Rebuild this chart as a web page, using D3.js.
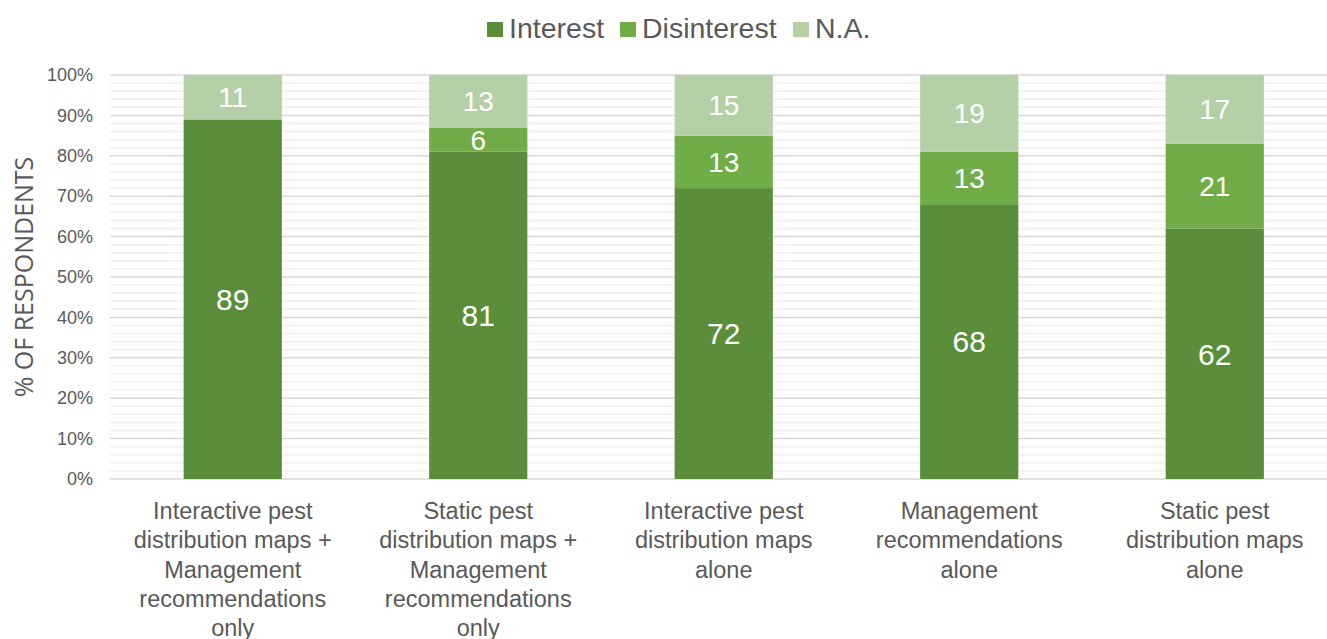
<!DOCTYPE html>
<html>
<head>
<meta charset="utf-8">
<script src="https://cdn.jsdelivr.net/npm/d3@7"></script>
<style>
	body { margin: 0; background: #fff; }
	svg { display: block; font-family: "Liberation Sans", Arial, sans-serif; }
</style>
</head>
<body>
<svg id="chart" width="1327" height="639"></svg>
<script>
const categories = [
	"Interactive pest distribution maps + Management recommendations only",
	"Static pest distribution maps + Management recommendations only",
	"Interactive pest distribution maps alone",
	"Management recommendations alone",
	"Static pest distribution maps alone"
];
// wrapped lines for category labels
const categoryLines = [
	["Interactive pest", "distribution maps +", "Management", "recommendations", "only"],
	["Static pest", "distribution maps +", "Management", "recommendations", "only"],
	["Interactive pest", "distribution maps", "alone"],
	["Management", "recommendations", "alone"],
	["Static pest", "distribution maps", "alone"]
];
const interest = [89, 81, 72, 68, 62];
const disinterest = [0, 6, 13, 13, 21];
const na = [11, 13, 15, 19, 17];
const seriesNames = ["Interest", "Disinterest", "N.A."];
const seriesColors = ["#5b8e3a", "#70ad47", "#b5cfa7"];
const yTicks = [0, 10, 20, 30, 40, 50, 60, 70, 80, 90, 100];

const rows = categories.map((c, i) => ({
	cat: c,
	"Interest": interest[i],
	"Disinterest": disinterest[i],
	"N.A.": na[i]
}));

const svg = d3.select("#chart");
const plotLeft = 110, plotRight = 1337.5, plotTop = 75, plotBottom = 479;

const x = d3.scaleBand()
	.domain(categories)
	.range([plotLeft, plotRight])
	.paddingInner(0.6)
	.paddingOuter(0.3);

const y = d3.scaleLinear().domain([0, 100]).range([plotBottom, plotTop]);

// minor gridlines
svg.append("g")
	.selectAll("line")
	.data(d3.range(0, 101, 2).filter(v => v % 10 !== 0))
	.enter().append("line")
	.attr("x1", plotLeft).attr("x2", plotRight)
	.attr("y1", d => y(d)).attr("y2", d => y(d))
	.attr("stroke", "#f0f0f0")
	.attr("stroke-width", 1.5);

// major gridlines
svg.append("g")
	.selectAll("line")
	.data(yTicks)
	.enter().append("line")
	.attr("x1", plotLeft).attr("x2", plotRight)
	.attr("y1", d => y(d)).attr("y2", d => y(d))
	.attr("stroke", "#d9d9d9")
	.attr("stroke-width", 1.5);

// y axis labels
const yAxis = d3.axisLeft(y).tickValues(yTicks).tickFormat(d => d + "%").tickSize(0).tickPadding(0);
const yg = svg.append("g")
	.attr("transform", "translate(" + (plotLeft - 17) + ",0)")
	.call(yAxis);
yg.select(".domain").remove();
yg.selectAll("text")
	.attr("fill", "#595959")
	.style("font-size", "18px")
	.style("font-family", "'Liberation Sans', Arial, sans-serif");

// y axis title
svg.append("text")
	.attr("transform", "translate(33," + ((plotTop + plotBottom) / 2) + ") rotate(-90)")
	.attr("text-anchor", "middle")
	.attr("fill", "#595959")
	.style("font-family", "'Open Sans', sans-serif")
	.style("font-size", "25px")
	.text("% OF RESPONDENTS");

// stacked bars
const stack = d3.stack().keys(seriesNames);
const stacked = stack(rows);

const layers = svg.append("g")
	.selectAll("g")
	.data(stacked)
	.enter().append("g")
	.attr("fill", (d, i) => seriesColors[i]);

layers.selectAll("rect")
	.data(d => d)
	.enter().append("rect")
	.attr("x", d => x(d.data.cat))
	.attr("y", d => y(d[1]))
	.attr("width", x.bandwidth())
	.attr("height", d => y(d[0]) - y(d[1]));

// value labels
layers.each(function (layer, li) {
	d3.select(this).selectAll("text")
		.data(layer.filter(d => d[1] - d[0] > 0))
		.enter().append("text")
		.attr("x", d => x(d.data.cat) + x.bandwidth() / 2)
		.attr("y", d => y((d[0] + d[1]) / 2))
		.attr("dy", "0.36em")
		.attr("text-anchor", "middle")
		.attr("fill", "#ffffff")
		.style("font-size", li === 0 ? "30px" : "28px")
		.text(d => d[1] - d[0]);
});

// category labels
const catG = svg.append("g");
categories.forEach((c, i) => {
	const t = catG.append("text")
		.attr("text-anchor", "middle")
		.attr("fill", "#595959")
		.style("font-size", "23.5px");
	categoryLines[i].forEach((line, j) => {
		t.append("tspan")
			.attr("x", x(c) + x.bandwidth() / 2)
			.attr("y", 519 + j * 29.3)
			.text(line);
	});
});

// legend
const legendX = [487, 620, 793];
const legend = svg.append("g");
seriesNames.forEach((name, i) => {
	legend.append("rect")
		.attr("x", legendX[i])
		.attr("y", 22)
		.attr("width", 16)
		.attr("height", 15)
		.attr("fill", seriesColors[i]);
	legend.append("text")
		.attr("x", legendX[i] + 22)
		.attr("y", 38)
		.attr("fill", "#595959")
		.style("font-size", "28.5px")
		.text(name);
});
</script>
</body>
</html>
